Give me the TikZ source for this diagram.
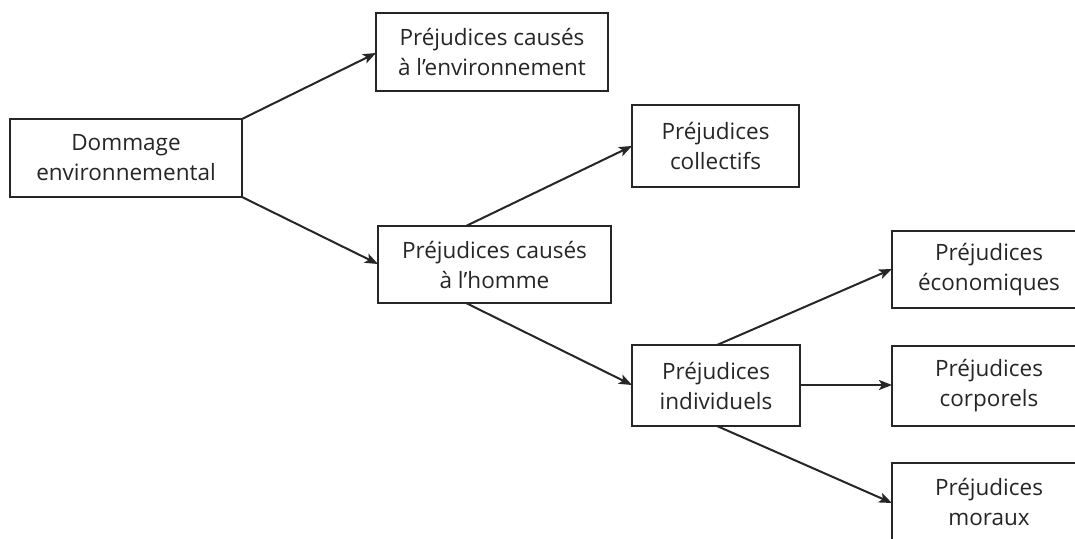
\documentclass[tikz,border=0pt]{standalone}
\usepackage{fontspec}
\setmainfont{Open Sans}
\usetikzlibrary{arrows.meta}
\definecolor{ink}{HTML}{262626}
\begin{document}
\begin{tikzpicture}[x=1pt,y=-1pt,
  boxstyle/.style={draw=ink,line width=2pt,fill=white},
  txt/.style={align=center,text=ink,font=\fontsize{22.5}{30}\selectfont},
  arr/.style={draw=ink,line width=2pt,-{Stealth[length=13pt,width=10pt,inset=3pt]}}]
\useasboundingbox (0,0) rectangle (1075,538);
\begin{scope}
\clip (0,0) rectangle (1075,538);
% boxes
\draw[boxstyle] (10,119) rectangle (242,197);
\node[txt] (dom) at (126,158) {Dommage\\environnemental};
\draw[boxstyle] (376,13) rectangle (608,91);
\node[txt] (env) at (492,52) {Préjudices causés\\à l’environnement};
\draw[boxstyle] (632,105) rectangle (799,187);
\node[txt] (col) at (715.5,146) {Préjudices\\collectifs};
\draw[boxstyle] (378,226) rectangle (611,303);
\node[txt] (hom) at (494.5,264.5) {Préjudices causés\\à l’homme};
\draw[boxstyle] (632,345) rectangle (800,426);
\node[txt] (ind) at (716,385.5) {Préjudices\\individuels};
\draw[boxstyle] (892,231) rectangle (1090,308);
\node[txt] (eco) at (989,269.5) {Préjudices\\économiques};
\draw[boxstyle] (892,346) rectangle (1090,426);
\node[txt] (cor) at (989,386) {Préjudices\\corporels};
\draw[boxstyle] (892,463) rectangle (1090,550);
\node[txt] (mor) at (989,502) {Préjudices\\moraux};
% anchor coordinates
\coordinate (domTR) at (242,119);
\coordinate (domBR) at (242,197);
\coordinate (envL) at (376,53);
\coordinate (homL) at (378,264);
\coordinate (homT) at (466,226);
\coordinate (homB) at (466,303);
\coordinate (colL) at (632,146);
\coordinate (indL) at (632,385);
\coordinate (indT) at (717,345);
\coordinate (indR) at (800,385);
\coordinate (indB) at (717,426);
\coordinate (ecoL) at (892,269);
\coordinate (corL) at (892,385);
\coordinate (morL) at (892,503);
% connectors
\draw[arr] (domTR) -- (envL);
\draw[arr] (domBR) -- (homL);
\draw[arr] (homT) -- (colL);
\draw[arr] (homB) -- (indL);
\draw[arr] (indT) -- (ecoL);
\draw[arr] (indR) -- (corL);
\draw[arr] (indB) -- (morL);
\end{scope}
\end{tikzpicture}
\end{document}
